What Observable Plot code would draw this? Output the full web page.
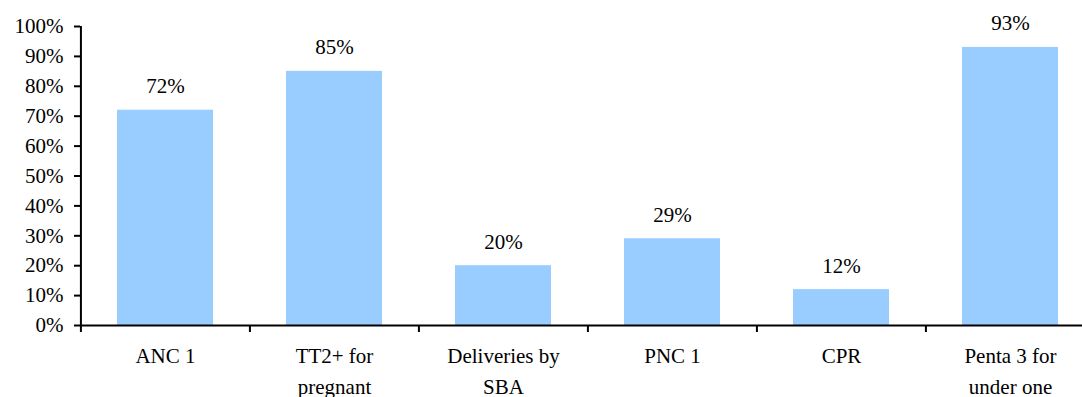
<!DOCTYPE html>
<html>
<head>
<meta charset="utf-8">
<script src="https://cdn.jsdelivr.net/npm/d3@7"></script>
<script src="https://cdn.jsdelivr.net/npm/@observablehq/plot@0.6"></script>
<style>
  html, body { margin: 0; padding: 0; background: #fff; overflow: hidden; }
  #chart svg { display: block; max-width: none !important; }
</style>
</head>
<body>
<div id="chart"></div>
<script>
// Service coverage indicators (percent)
const categories = ["ANC 1", "TT2+ for\npregnant", "Deliveries by\nSBA", "PNC 1", "CPR", "Penta 3 for\nunder one"];
const coverage = [72, 85, 20, 29, 12, 93];
const yTicks = [0, 10, 20, 30, 40, 50, 60, 70, 80, 90, 100];

const data = categories.map((c, i) => ({category: c, value: coverage[i]}));

// the last category band runs slightly past the right edge of the page
const width = 1095;
const marginLeft = 80;
const step = (width - marginLeft) / categories.length;
const font = "'Liberation Serif', 'Times New Roman', serif";

const chart = Plot.plot({
  width,
  height: 397,
  marginTop: 26,
  marginBottom: 72,
  marginLeft,
  marginRight: 0,
  style: {fontFamily: font, fontSize: "21px", color: "#000", background: "#fff"},
  x: {domain: categories, paddingInner: 0.43, paddingOuter: 0.215, label: null},
  y: {domain: [0, 100], label: null},
  marks: [
    Plot.barY(data, {x: "category", y: "value", fill: "#99CCFF"}),
    Plot.text(data, {
      x: "category", y: "value", text: d => d.value + "%",
      lineAnchor: "bottom", dy: -17, fontSize: 21, fontFamily: font, fill: "#000"
    }),
    // y axis
    Plot.axisY({ticks: yTicks, tickFormat: d => d + "%", tickSize: 6, tickPadding: 11, strokeWidth: 2, fontSize: 21, fontFamily: font}),
    Plot.ruleX([categories[0]], {dx: -step / 2, strokeWidth: 2}),
    // category boundary ticks below the baseline
    Plot.axisX({tickSize: 7, fill: "none", strokeWidth: 2, dx: -step / 2}),
    // category labels
    Plot.axisX({tickSize: 0, tickPadding: 16, lineHeight: 1.47, fontSize: 21, fontFamily: font}),
    Plot.ruleY([0], {strokeWidth: 2})
  ]
});

document.getElementById("chart").append(chart);
</script>
</body>
</html>
